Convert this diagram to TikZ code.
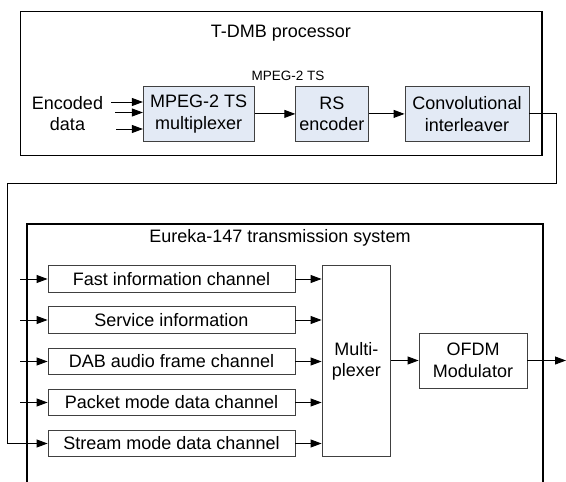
\documentclass[tikz,border=0pt]{standalone}
\usepackage{fontspec}
\setmainfont{Liberation Sans}
\usetikzlibrary{arrows.meta}
\definecolor{boxfill}{HTML}{E3EAF5}
\definecolor{boxline}{HTML}{404040}
\tikzset{
  outer/.style={draw=black, line width=1.3pt},
  blk/.style={draw=boxline, line width=0.9pt, rectangle, inner sep=0pt, align=center,
    font=\fontsize{18}{21.5}\selectfont},
  blue/.style={blk, fill=boxfill},
  lbl/.style={inner sep=0pt, align=center, font=\fontsize{18}{21.5}\selectfont},
  small/.style={inner sep=0pt, font=\fontsize{13.5}{16}\selectfont},
  conn/.style={draw=black, line width=0.9pt, -{Triangle[length=11pt,width=8pt]}},
  wire/.style={draw=black, line width=0.9pt},
}
\begin{document}
\begin{tikzpicture}[x=1pt,y=-1pt]
\useasboundingbox (0,0) rectangle (566,482);
% T-DMB processor
\draw[outer] (20.5,11.5) rectangle (542,155.5);
\node[lbl] (ttitle) at (281,33) {T-DMB processor};
\node[small] (tslbl) at (288,76) {MPEG-2 TS};
\node[lbl] (enc) at (67.5,113.5) {Encoded\\data};
\node[blue, minimum width=110.7pt, minimum height=54.3pt] (mux) at (198.7,113.9) {MPEG-2 TS\\multiplexer};
\node[blue, minimum width=72.3pt, minimum height=54.3pt] (rs) at (331.9,113.9) {RS\\encoder};
\node[blue, minimum width=124pt, minimum height=54.3pt] (conv) at (467,113.9) {Convolutional\\interleaver};
\coordinate (i1) at (111,102);
\coordinate (i2) at (115,112.5);
\coordinate (i3) at (116,129);
\draw[conn] (i1) -- (i1 -| mux.west);
\draw[conn] (i2) -- (i2 -| mux.west);
\draw[conn] (i3) -- (i3 -| mux.west);
\draw[conn] (mux) -- (rs);
\draw[conn] (rs) -- (conv);
% Eureka-147
\draw[outer] (27,482) -- (27,224) -- (543,224) -- (543,482);
\node[lbl] (etitle) at (280,238) {Eureka-147 transmission system};
\node[blk, minimum width=247pt, minimum height=26.5pt] (fic) at (171.5,279) {Fast information channel};
\node[blk, minimum width=247pt, minimum height=26.5pt] (si) at (171.5,320) {Service information};
\node[blk, minimum width=247pt, minimum height=26.5pt] (dab) at (171.5,361.5) {DAB audio frame channel};
\node[blk, minimum width=247pt, minimum height=26.5pt] (pkt) at (171.5,402.5) {Packet mode data channel};
\node[blk, minimum width=247pt, minimum height=26.5pt] (str) at (171.5,443.5) {Stream mode data channel};
\node[blk, minimum width=68.6pt, minimum height=191pt] (emux) at (356.3,361.2) {Multi-\\plexer};
\node[blk, minimum width=108pt, minimum height=55pt] (ofdm) at (473,360.5) {OFDM\\Modulator};
\foreach \n in {fic,si,dab,pkt}{
  \coordinate (s\n) at (20,0 |- \n.west);
  \draw[conn] (s\n) -- (\n.west);
}
\foreach \n in {fic,si,dab,pkt,str}{
  \draw[conn] (\n.east) -- (\n.east -| emux.west);
}
\draw[conn] (emux.east |- ofdm.west) -- (ofdm.west);
\coordinate (out) at (566,360.5);
\draw[conn] (ofdm.east) -- (out);
% feedback wire
\coordinate (f1) at (556,113.9);
\coordinate (f2) at (556,183);
\coordinate (f3) at (7,183);
\draw[conn] (conv.east) -- (f1) -- (f2) -- (f3) -- (f3 |- str.west) -- (str.west);
\end{tikzpicture}
\end{document}
